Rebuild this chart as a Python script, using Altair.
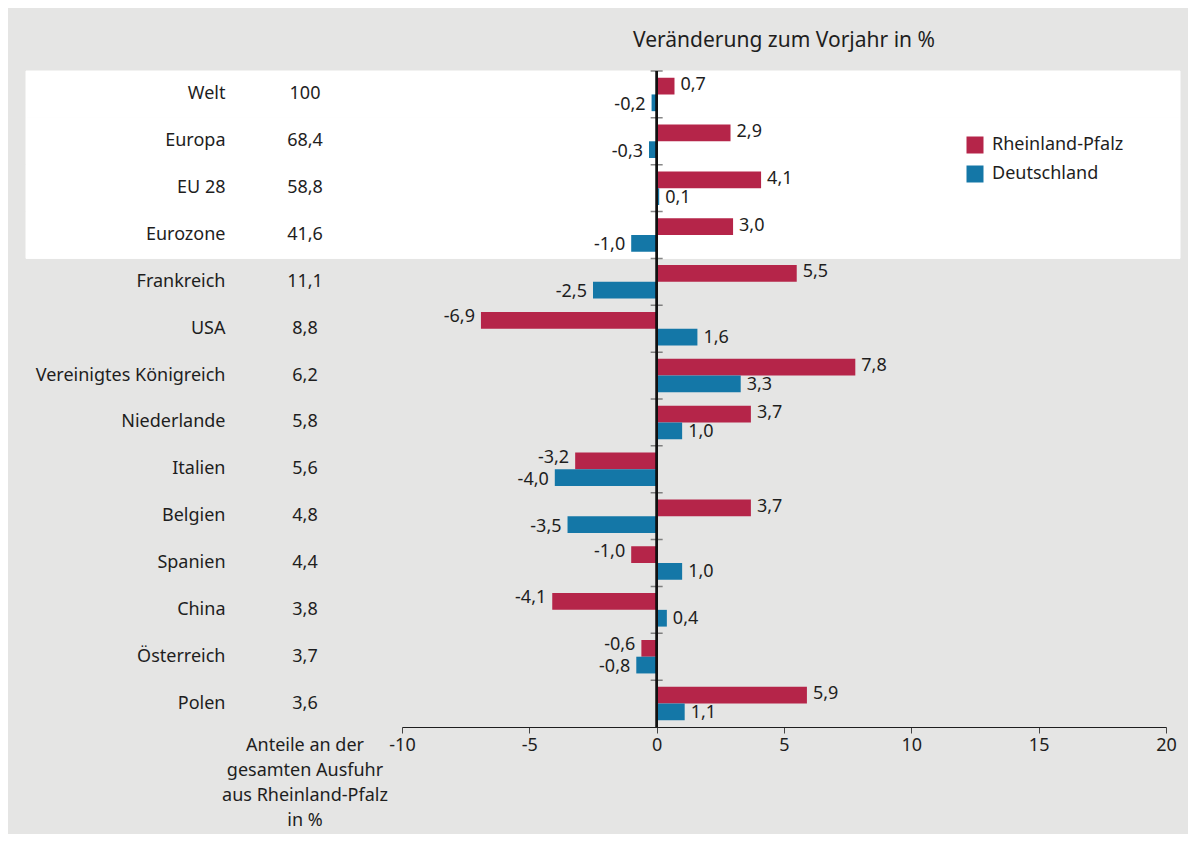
import altair as alt
import pandas as pd

countries = ["Welt", "Europa", "EU 28", "Eurozone", "Frankreich", "USA",
             "Vereinigtes Königreich", "Niederlande", "Italien", "Belgien",
             "Spanien", "China", "Österreich", "Polen"]
shares = [100, 68.4, 58.8, 41.6, 11.1, 8.8, 6.2, 5.8, 5.6, 4.8, 4.4, 3.8, 3.7, 3.6]
rlp = [0.7, 2.9, 4.1, 3.0, 5.5, -6.9, 7.8, 3.7, -3.2, 3.7, -1.0, -4.1, -0.6, 5.9]
de = [-0.2, -0.3, 0.1, -1.0, -2.5, 1.6, 3.3, 1.0, -4.0, -3.5, 1.0, 0.4, -0.8, 1.1]
series = ["Rheinland-Pfalz", "Deutschland"]
colors = ["#b52549", "#1477a7"]
highlighted = countries[:4]
x_ticks = [-10, -5, 0, 5, 10, 15, 20]
title_text = "Veränderung zum Vorjahr in %"
note_lines = ["Anteile an der", "gesamten Ausfuhr", "aus Rheinland-Pfalz", "in %"]

FONT = "Noto Sans"
FS = 18
TXT = "#1e1e1e"


def de_num(v, dec=1):
    return f"{v:.{dec}f}".replace(".", ",")


rows = []
for c, a, b in zip(countries, rlp, de):
    rows.append({"country": c, "series": series[0], "v": a, "lab": de_num(a)})
    rows.append({"country": c, "series": series[1], "v": b, "lab": de_num(b)})
bars_df = pd.DataFrame(rows)

share_df = pd.DataFrame({
    "country": countries,
    "share": [str(s) if float(s).is_integer() else de_num(s) for s in shares],
})
hl_df = pd.DataFrame({"country": highlighted})
tick_df = pd.DataFrame({"country": countries})
one_df = pd.DataFrame({"k": [0]})

y_scale = alt.Scale(domain=countries, paddingInner=0, paddingOuter=0)
x_scale = alt.Scale(domain=[-10, 20], nice=False, zero=False)
yoff = alt.YOffset("series:N", scale=alt.Scale(domain=series, paddingInner=0, paddingOuter=0.4))

y_enc = alt.Y("country:N", scale=y_scale, sort=countries,
              axis=alt.Axis(title=None, domain=False, ticks=False, tickSize=0,
                            labelPadding=177, labelFontSize=FS, labelColor=TXT,
                            labelFont=FONT, labelLimit=400, grid=False))
x_enc = alt.X("v:Q", scale=x_scale,
              axis=alt.Axis(title=None, values=x_ticks, grid=False, domainColor="#1e1e1e",
                            tickColor="#444", tickSize=6, labelFontSize=FS, labelColor=TXT,
                            labelFont=FONT, labelPadding=3, labelFlush=False,
                            labelExpr="'' + datum.value"))

white_band = alt.Chart(hl_df).mark_rect(color="white", stroke="white", strokeWidth=1).encode(
    y=y_enc, x=alt.value(-376), x2=alt.value(778)
)

bars = alt.Chart(bars_df).mark_bar().encode(
    x=x_enc,
    y=y_enc,
    yOffset=yoff,
    color=alt.Color("series:N", scale=alt.Scale(domain=series, range=colors),
                    legend=alt.Legend(title=None, orient="none", legendX=564, legendY=65,
                                      symbolType="square", symbolSize=289,
                                      symbolStrokeWidth=0, labelFontSize=FS,
                                      labelFont=FONT, labelColor=TXT, labelOffset=8,
                                      rowPadding=11)),
)

zero_ticks = alt.Chart(tick_df).mark_tick(orient="horizontal", size=12, thickness=1.5,
                                          color="#555").encode(
    x=alt.datum(0, scale=x_scale),
    y=alt.Y("country:N", scale=y_scale, sort=countries, bandPosition=0),
)

zero_line = alt.Chart(tick_df).mark_rule(color="#111", strokeWidth=1.5).encode(
    x=alt.datum(0, scale=x_scale)
)


def value_labels(ser, positive, dy):
    cond = "datum.v >= 0" if positive else "datum.v < 0"
    return alt.Chart(bars_df).transform_filter(
        f"datum.series == '{ser}' && {cond}"
    ).mark_text(
        align="left" if positive else "right", baseline="middle",
        dx=6 if positive else -6, dy=dy, fontSize=FS, font=FONT, color=TXT
    ).encode(x="v:Q", y=alt.Y("country:N", sort=countries), yOffset="series:N", text="lab:N")


label_layers = [
    value_labels(series[0], True, -1),
    value_labels(series[0], False, -3),
    value_labels(series[1], True, 1),
    value_labels(series[1], False, 2),
]

share_text = alt.Chart(share_df).mark_text(
    align="center", baseline="middle", fontSize=FS, font=FONT, color=TXT
).encode(x=alt.value(-97), y=alt.Y("country:N", sort=countries), text="share:N")

note = alt.Chart(one_df).mark_text(
    text=note_lines, align="center", baseline="alphabetic", fontSize=FS, font=FONT,
    color=TXT, lineHeight=25
).encode(x=alt.value(-97), y=alt.value(680))

title = alt.Chart(one_df).mark_text(
    text=title_text, align="center", baseline="alphabetic", fontSize=21, font=FONT,
    color=TXT
).encode(x=alt.value(382), y=alt.value(-24))

chart = alt.layer(
    white_band, bars, zero_ticks, zero_line, *label_layers, share_text, note, title
).properties(
    width=764,
    height=656,
    background="#e5e5e4",
    padding={"left": 394, "top": 63, "right": 22, "bottom": 107},
    autosize=alt.AutoSizeParams(type="none"),
).configure_view(stroke=None)

chart.save("out.html", embed_options={"renderer": "svg", "actions": False})
